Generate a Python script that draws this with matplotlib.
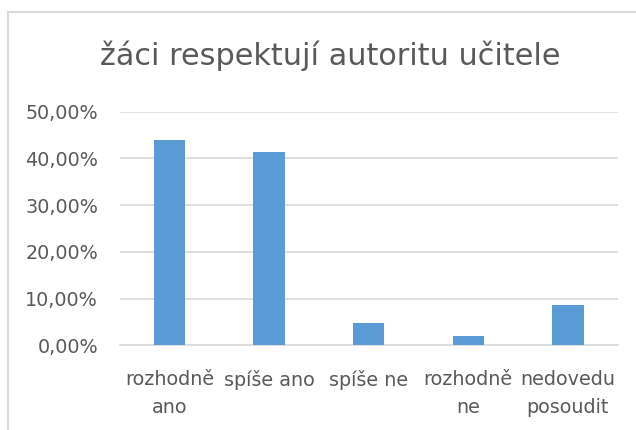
import matplotlib
matplotlib.use('Agg')
import matplotlib.pyplot as plt
from matplotlib.patches import Rectangle
from matplotlib.ticker import FuncFormatter

categories = ["rozhodně\nano", "spíše ano", "spíše ne", "rozhodně\nne", "nedovedu\nposoudit"]
values = [0.440, 0.413, 0.048, 0.020, 0.086]
yticks = [0, 0.1, 0.2, 0.3, 0.4, 0.5]
title = "žáci respektují autoritu učitele"

W, H = 636, 430
plt.rcParams['font.family'] = ['DejaVu Sans']
fig = plt.figure(figsize=(W / 100, H / 100), dpi=100)
fig.patch.set_facecolor('white')

# chart border (cropped)
fig.patches.append(Rectangle((8 / W, -0.1), 1.2, 1 - 12 / H + 0.1, transform=fig.transFigure,
                             fill=False, edgecolor='#d9d9d9', linewidth=1.5))

ax = fig.add_axes([119.7 / W, 1 - 345.3 / H, (617.7 - 119.7) / W, (345.3 - 111.7) / H])
x = list(range(len(categories)))
ax.bar(x, values, width=0.315, color='#5b9bd5', zorder=3)
ax.set_xlim(-0.5, len(categories) - 0.5)
ax.set_ylim(0, 0.5)
ax.set_yticks(yticks)
ax.yaxis.set_major_formatter(FuncFormatter(lambda v, p: f"{v * 100:.2f}%".replace('.', ',')))
ax.grid(axis='y', color='#d9d9d9', linewidth=1.2, zorder=0)
for s in ['top', 'right', 'left']:
    ax.spines[s].set_visible(False)
ax.spines['bottom'].set_color('#d9d9d9')
ax.spines['bottom'].set_linewidth(1.2)
ax.tick_params(length=0, colors='#595959', labelsize=13.8)
ax.tick_params(axis='y', pad=15.6)
ax.tick_params(axis='x', pad=17.5)
ax.set_xticks(x)
ax.set_xticklabels(categories, linespacing=1.6)
ax.set_facecolor('none')

fig.text(330 / W, 1 - 65 / H, title, ha='center', va='baseline', fontsize=21.8, color='#595959')

fig.savefig('out.png', dpi=100, facecolor='white')
